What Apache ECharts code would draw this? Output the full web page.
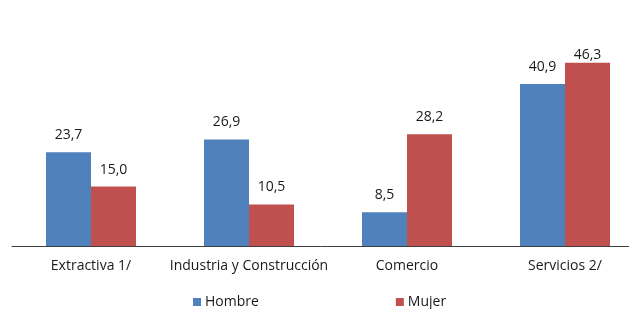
<!DOCTYPE html>
<html>
<head>
<meta charset="utf-8">
<script src="https://cdn.jsdelivr.net/npm/echarts@6/dist/echarts.min.js"></script>
<style>
  html, body { margin: 0; padding: 0; background: #fff; }
  #chart { width: 629px; height: 309px; }
</style>
</head>
<body>
<div id="chart"></div>
<script>
const categories = ['Extractiva 1/', 'Industria y Construcción', 'Comercio', 'Servicios 2/'];
const hombre = [23.7, 26.9, 8.5, 40.9];
const mujer = [15.0, 10.5, 28.2, 46.3];

const chart = echarts.init(document.getElementById('chart'));

const fmt = p => p.value.toFixed(1).replace('.', ',');

const barLabel = {
  show: true,
  position: 'top',
  distance: 10,
  color: '#1a1a1a',
  fontFamily: 'Open Sans',
  fontSize: 14,
  formatter: fmt
};

// labels near the top of the plot sit right on the bar, like the original
const withLabels = arr => arr.map(v => v > 45 ? { value: v, label: { distance: 1 } } : v);

chart.setOption({
  animation: false,
  textStyle: { fontFamily: 'Open Sans' },
  grid: { left: 12, width: 632, top: 48, bottom: 63, outerBoundsMode: 'none' },
  legend: {
    left: 188,
    top: 290,
    itemWidth: 8,
    itemHeight: 8,
    itemGap: 137,
    icon: 'rect',
    textStyle: { fontSize: 14, color: '#1a1a1a', padding: [0, 0, 0, -1] },
    data: ['Hombre', 'Mujer']
  },
  xAxis: {
    type: 'category',
    data: categories,
    axisLine: { lineStyle: { color: '#404040', width: 1 } },
    axisTick: { show: false },
    axisLabel: { color: '#1a1a1a', fontSize: 14, margin: 13, interval: 0 }
  },
  yAxis: {
    type: 'value',
    min: 0,
    max: 50,
    show: false,
    splitLine: { show: false }
  },
  series: [
    {
      name: 'Hombre',
      type: 'bar',
      data: withLabels(hombre),
      barWidth: 45,
      barGap: '0%',
      itemStyle: { color: '#4F81BD' },
      label: barLabel
    },
    {
      name: 'Mujer',
      type: 'bar',
      data: withLabels(mujer),
      barWidth: 45,
      itemStyle: { color: '#C0504D' },
      label: barLabel
    }
  ]
});
</script>
</body>
</html>
